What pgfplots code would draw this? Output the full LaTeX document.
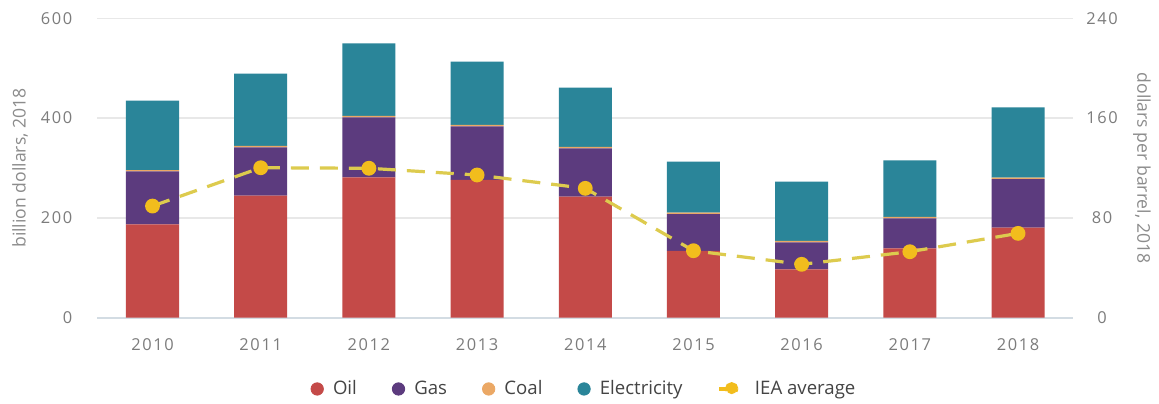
\documentclass[border=0pt]{standalone}
\usepackage{fontspec}
\setmainfont{Open Sans}
\newfontfamily\tickfont[LetterSpace=10]{Open Sans}
\usepackage{pgfplots}
\pgfplotsset{compat=1.18}

\definecolor{oil}{HTML}{C44A48}
\definecolor{gas}{HTML}{5C3B7E}
\definecolor{coal}{HTML}{EBA865}
\definecolor{elec}{HTML}{2A8599}
\definecolor{iea}{HTML}{F2BD1D}
\definecolor{iealine}{HTML}{DDCB4E}
\definecolor{gridc}{HTML}{E8E8E8}
\definecolor{axisc}{HTML}{D3DCE3}
\definecolor{ticklab}{HTML}{7C7C7C}
\definecolor{labc}{HTML}{8C8C8C}
\definecolor{legtext}{HTML}{444444}

\pgfplotsset{
  common/.style={
    at={(48.5pt,42.65pt)}, anchor=south west,
    scale only axis, width=488pt, height=149.7pt,
    xmin=-0.513, xmax=8.508,
    /pgf/number format/assume math mode=true,
    tick style={draw=none},
    ticklabel style={font=\tickfont\fontsize{8.2}{10}\selectfont, text=ticklab},
    label style={font=\fontsize{8.8}{10}\selectfont, text=labc},
  },
}

\begin{document}
\begin{tikzpicture}
\path[use as bounding box, fill=white] (0,0) rectangle (579.5pt,201.5pt);

% stacked bars, billion dollars
\begin{axis}[
  common,
  ybar stacked, bar width=0.49,
  ymin=0, ymax=600,
  axis line style={draw=none},
  ytick={200,400,600},
  extra y ticks={0},
  extra y tick style={major grid style={axisc, line width=0.8pt}},
  ymajorgrids, major grid style={gridc, line width=0.7pt},
  xtick={0,1,2,3,4,5,6,7,8},
  xticklabels={2010,2011,2012,2013,2014,2015,2016,2017,2018},
  xticklabel style={anchor=north, yshift=-6.9pt},
  yticklabel style={anchor=east, xshift=-8.8pt},
  ylabel={billion dollars, 2018},
  ylabel style={at={(axis description cs:-0.0789,0.5)}, anchor=center},
]
\addplot[fill=oil, draw=none] coordinates {
  (0,187) (1,244.5) (2,281) (3,276) (4,242.5) (5,133.7) (6,97) (7,139) (8,180.4)};
\addplot[fill=gas, draw=none] coordinates {
  (0,106) (1,97) (2,120.5) (3,107.5) (4,97) (5,74) (6,54) (7,60) (8,97.5)};
\addplot[fill=coal, draw=none] coordinates {
  (0,3) (1,3) (2,3) (3,3) (4,3) (5,3) (6,3) (7,3) (8,3)};
\addplot[fill=elec, draw=none] coordinates {
  (0,139) (1,144.5) (2,145.5) (3,126.5) (4,118.5) (5,102) (6,118.5) (7,113.4) (8,140.7)};
\end{axis}

% IEA average, dollars per barrel
\begin{axis}[
  common,
  ymin=0, ymax=240,
  axis x line=none, xtick=\empty,
  axis y line*=right, y axis line style={draw=none},
  ytick={0,80,160,240},
  yticklabel style={anchor=center, xshift=14.5pt},
  ylabel={dollars per barrel, 2018},
  ylabel style={at={(axis description cs:1.0707,0.5)}, anchor=center, rotate=180},
  legend columns=5,
  legend style={at={(axis description cs:0.5,-0.238)}, anchor=center,
    draw=none, fill=none, font=\fontsize{9.3}{11}\selectfont, text=legtext,
    /tikz/every odd column/.append style={column sep=2.6pt},
    /tikz/every even column/.append style={column sep=15.5pt}},
]
\addlegendimage{legend image code/.code={\fill[oil] (0pt,0pt) circle (3.1pt);}}
\addlegendentry{Oil}
\addlegendimage{legend image code/.code={\fill[gas] (0pt,0pt) circle (3.1pt);}}
\addlegendentry{Gas}
\addlegendimage{legend image code/.code={\fill[coal] (0pt,0pt) circle (3.1pt);}}
\addlegendentry{Coal}
\addlegendimage{legend image code/.code={\fill[elec] (0pt,0pt) circle (3.1pt);}}
\addlegendentry{Electricity}
\addplot[iealine, line width=1.6pt, dash pattern=on 9pt off 5.5pt,
  mark=*, mark size=2.9pt, mark options={solid, fill=iea, draw=iea},
  legend image code/.code={
    \draw[iea, line width=1.6pt] (-6.25pt,0pt) -- (6.25pt,0pt);
    \fill[iea] (0pt,0pt) circle (2.6pt);}]
  coordinates {
  (0,89.5) (1,120.2) (2,119.8) (3,114.4) (4,103.7) (5,53.7) (6,42.8) (7,52.9) (8,67.6)};
\addlegendentry{IEA average}
\end{axis}
\end{tikzpicture}
\end{document}
